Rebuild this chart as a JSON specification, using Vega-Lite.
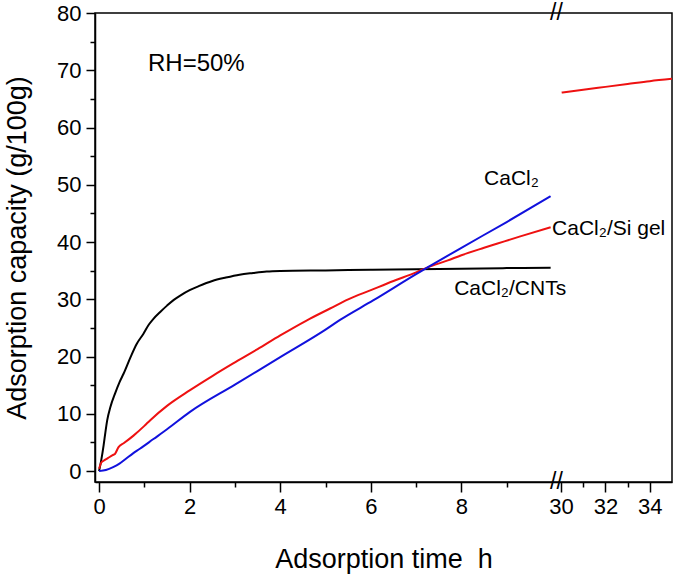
{
  "$schema": "https://vega.github.io/schema/vega-lite/v6.json",
  "width": 577,
  "height": 469,
  "autosize": "none",
  "padding": {"left": 95, "top": 13, "right": 3, "bottom": 94},
  "background": "white",
  "config": {
    "view": {"stroke": "black", "strokeWidth": 1.5},
    "font": "Liberation Sans",
    "axis": {
      "grid": false,
      "domainColor": "black",
      "tickColor": "black",
      "domainWidth": 1.5,
      "tickWidth": 1.5,
      "labelFont": "Liberation Sans",
      "titleFont": "Liberation Sans",
      "labelColor": "black",
      "titleColor": "black",
      "labelFontSize": 22,
      "titleFontSize": 27,
      "titleFontWeight": "normal"
    }
  },
  "datasets": {
    "curves": [
      {"series": "CaCl2/CNTs", "segment": "a", "t": 0, "v": 0},
      {"series": "CaCl2/CNTs", "segment": "a", "t": 0.05, "v": 2.0},
      {"series": "CaCl2/CNTs", "segment": "a", "t": 0.1, "v": 4.5},
      {"series": "CaCl2/CNTs", "segment": "a", "t": 0.14, "v": 6.8},
      {"series": "CaCl2/CNTs", "segment": "a", "t": 0.18, "v": 8.9},
      {"series": "CaCl2/CNTs", "segment": "a", "t": 0.25, "v": 11.2},
      {"series": "CaCl2/CNTs", "segment": "a", "t": 0.35, "v": 13.5},
      {"series": "CaCl2/CNTs", "segment": "a", "t": 0.45, "v": 15.5},
      {"series": "CaCl2/CNTs", "segment": "a", "t": 0.54, "v": 17},
      {"series": "CaCl2/CNTs", "segment": "a", "t": 0.7, "v": 20},
      {"series": "CaCl2/CNTs", "segment": "a", "t": 0.83, "v": 22.2},
      {"series": "CaCl2/CNTs", "segment": "a", "t": 0.98, "v": 24},
      {"series": "CaCl2/CNTs", "segment": "a", "t": 1.1, "v": 25.6},
      {"series": "CaCl2/CNTs", "segment": "a", "t": 1.2, "v": 26.6},
      {"series": "CaCl2/CNTs", "segment": "a", "t": 1.35, "v": 27.8},
      {"series": "CaCl2/CNTs", "segment": "a", "t": 1.5, "v": 28.9},
      {"series": "CaCl2/CNTs", "segment": "a", "t": 1.65, "v": 29.9},
      {"series": "CaCl2/CNTs", "segment": "a", "t": 1.8, "v": 30.7},
      {"series": "CaCl2/CNTs", "segment": "a", "t": 2.0, "v": 31.6},
      {"series": "CaCl2/CNTs", "segment": "a", "t": 2.2, "v": 32.3},
      {"series": "CaCl2/CNTs", "segment": "a", "t": 2.5, "v": 33.2},
      {"series": "CaCl2/CNTs", "segment": "a", "t": 2.8, "v": 33.8},
      {"series": "CaCl2/CNTs", "segment": "a", "t": 3.1, "v": 34.3},
      {"series": "CaCl2/CNTs", "segment": "a", "t": 3.4, "v": 34.6},
      {"series": "CaCl2/CNTs", "segment": "a", "t": 3.7, "v": 34.85},
      {"series": "CaCl2/CNTs", "segment": "a", "t": 4.0, "v": 34.95},
      {"series": "CaCl2/CNTs", "segment": "a", "t": 5.0, "v": 35.05},
      {"series": "CaCl2/CNTs", "segment": "a", "t": 6.0, "v": 35.15},
      {"series": "CaCl2/CNTs", "segment": "a", "t": 7.0, "v": 35.25},
      {"series": "CaCl2/CNTs", "segment": "a", "t": 8.0, "v": 35.35},
      {"series": "CaCl2/CNTs", "segment": "a", "t": 9.0, "v": 35.45},
      {"series": "CaCl2/CNTs", "segment": "a", "t": 9.97, "v": 35.5},
      {"series": "CaCl2/Si gel", "segment": "b", "t": 0, "v": 0.4},
      {"series": "CaCl2/Si gel", "segment": "b", "t": 0.05, "v": 1.5},
      {"series": "CaCl2/Si gel", "segment": "b", "t": 0.1, "v": 1.8},
      {"series": "CaCl2/Si gel", "segment": "b", "t": 0.2, "v": 2.3},
      {"series": "CaCl2/Si gel", "segment": "b", "t": 0.3, "v": 2.8},
      {"series": "CaCl2/Si gel", "segment": "b", "t": 0.35, "v": 3.0},
      {"series": "CaCl2/Si gel", "segment": "b", "t": 0.43, "v": 4.2},
      {"series": "CaCl2/Si gel", "segment": "b", "t": 0.55, "v": 4.9},
      {"series": "CaCl2/Si gel", "segment": "b", "t": 0.76, "v": 6.2},
      {"series": "CaCl2/Si gel", "segment": "b", "t": 1.0, "v": 7.9},
      {"series": "CaCl2/Si gel", "segment": "b", "t": 1.13, "v": 8.9},
      {"series": "CaCl2/Si gel", "segment": "b", "t": 1.5, "v": 11.4},
      {"series": "CaCl2/Si gel", "segment": "b", "t": 2.0, "v": 14.1},
      {"series": "CaCl2/Si gel", "segment": "b", "t": 2.5, "v": 16.6},
      {"series": "CaCl2/Si gel", "segment": "b", "t": 2.96, "v": 18.8},
      {"series": "CaCl2/Si gel", "segment": "b", "t": 3.5, "v": 21.3},
      {"series": "CaCl2/Si gel", "segment": "b", "t": 4.0, "v": 23.7},
      {"series": "CaCl2/Si gel", "segment": "b", "t": 4.58, "v": 26.3},
      {"series": "CaCl2/Si gel", "segment": "b", "t": 5.1, "v": 28.4},
      {"series": "CaCl2/Si gel", "segment": "b", "t": 5.5, "v": 30.0},
      {"series": "CaCl2/Si gel", "segment": "b", "t": 6.0, "v": 31.6},
      {"series": "CaCl2/Si gel", "segment": "b", "t": 6.5, "v": 33.2},
      {"series": "CaCl2/Si gel", "segment": "b", "t": 7.0, "v": 34.7},
      {"series": "CaCl2/Si gel", "segment": "b", "t": 7.23, "v": 35.5},
      {"series": "CaCl2/Si gel", "segment": "b", "t": 7.7, "v": 36.8},
      {"series": "CaCl2/Si gel", "segment": "b", "t": 8.0, "v": 37.7},
      {"series": "CaCl2/Si gel", "segment": "b", "t": 8.5, "v": 39.0},
      {"series": "CaCl2/Si gel", "segment": "b", "t": 8.78, "v": 39.7},
      {"series": "CaCl2/Si gel", "segment": "b", "t": 9.3, "v": 41.0},
      {"series": "CaCl2/Si gel", "segment": "b", "t": 9.97, "v": 42.6},
      {"series": "CaCl2/Si gel", "segment": "c", "t": 30.03, "v": 66.1},
      {"series": "CaCl2/Si gel", "segment": "c", "t": 31, "v": 66.6},
      {"series": "CaCl2/Si gel", "segment": "c", "t": 32, "v": 67.1},
      {"series": "CaCl2/Si gel", "segment": "c", "t": 33, "v": 67.6},
      {"series": "CaCl2/Si gel", "segment": "c", "t": 34, "v": 68.1},
      {"series": "CaCl2/Si gel", "segment": "c", "t": 35, "v": 68.5},
      {"series": "CaCl2", "segment": "d", "t": 0, "v": 0},
      {"series": "CaCl2", "segment": "d", "t": 0.15, "v": 0.2},
      {"series": "CaCl2", "segment": "d", "t": 0.31, "v": 0.7},
      {"series": "CaCl2", "segment": "d", "t": 0.45, "v": 1.3},
      {"series": "CaCl2", "segment": "d", "t": 0.6, "v": 2.2},
      {"series": "CaCl2", "segment": "d", "t": 0.75, "v": 3.1},
      {"series": "CaCl2", "segment": "d", "t": 0.9, "v": 3.9},
      {"series": "CaCl2", "segment": "d", "t": 1.2, "v": 5.6},
      {"series": "CaCl2", "segment": "d", "t": 1.5, "v": 7.3},
      {"series": "CaCl2", "segment": "d", "t": 2.0, "v": 10.3},
      {"series": "CaCl2", "segment": "d", "t": 3.0, "v": 15.1},
      {"series": "CaCl2", "segment": "d", "t": 4.0, "v": 19.9},
      {"series": "CaCl2", "segment": "d", "t": 5.0, "v": 24.7},
      {"series": "CaCl2", "segment": "d", "t": 5.32, "v": 26.4},
      {"series": "CaCl2", "segment": "d", "t": 6.05, "v": 29.8},
      {"series": "CaCl2", "segment": "d", "t": 7.0, "v": 34.4},
      {"series": "CaCl2", "segment": "d", "t": 7.3, "v": 35.8},
      {"series": "CaCl2", "segment": "d", "t": 8.0, "v": 39.0},
      {"series": "CaCl2", "segment": "d", "t": 9.0, "v": 43.5},
      {"series": "CaCl2", "segment": "d", "t": 9.97, "v": 48.0}
    ],
    "notes": [
      {"label": "CaCl₂", "t": 8.5, "v": 49.9},
      {"label": "CaCl₂/Si gel", "t": 10.2, "v": 41.2},
      {"label": "CaCl₂/CNTs", "t": 7.84, "v": 30.7}
    ],
    "rh": [
      {"label": "RH=50%", "t": 1.08, "v": 69.8}
    ],
    "breaks": [
      {"t": 20, "v": 80},
      {"t": 20, "v": -1.9}
    ]
  },
  "layer": [
    {
      "data": {"name": "curves"},
      "mark": {"type": "line", "strokeWidth": 2, "clip": true, "interpolate": "monotone"},
      "encoding": {
        "x": {
          "field": "t",
          "type": "quantitative",
          "scale": {"domain": [-0.09, 10, 30, 35], "range": [0, 457, 466, 577], "nice": false, "zero": false},
          "axis": {
            "orient": "bottom",
            "values": [0, 2, 4, 6, 8, 30, 32, 34],
            "tickSize": 10,
            "labelPadding": 4,
            "title": "Adsorption time\u00a0\u00a0h",
            "titlePadding": 29
          }
        },
        "y": {
          "field": "v",
          "type": "quantitative",
          "scale": {"domain": [-1.9, 80], "nice": false, "zero": false},
          "axis": {
            "orient": "left",
            "values": [0, 10, 20, 30, 40, 50, 60, 70, 80],
            "tickSize": 9,
            "labelPadding": 5,
            "title": "Adsorption capacity (g/100g)",
            "titlePadding": 25
          }
        },
        "color": {
          "field": "series",
          "type": "nominal",
          "scale": {"domain": ["CaCl2/CNTs", "CaCl2/Si gel", "CaCl2"], "range": ["#000000", "#ee1111", "#1111dd"]},
          "legend": null
        },
        "detail": {"field": "segment"}
      }
    },
    {
      "data": {"name": "curves"},
      "mark": {"type": "point", "opacity": 0},
      "encoding": {
        "x": {
          "field": "t",
          "type": "quantitative",
          "axis": {
            "orient": "bottom",
            "values": [1, 3, 5, 7, 9, 31, 33],
            "tickSize": 5,
            "labels": false,
            "domain": false,
            "title": null
          }
        },
        "y": {
          "field": "v",
          "type": "quantitative",
          "axis": {
            "orient": "left",
            "values": [5, 15, 25, 35, 45, 55, 65, 75],
            "tickSize": 5,
            "labels": false,
            "domain": false,
            "title": null
          }
        }
      }
    },
    {
      "data": {"name": "notes"},
      "mark": {"type": "text", "align": "left", "baseline": "alphabetic", "fontSize": 21, "font": "Liberation Sans", "color": "black"},
      "encoding": {
        "x": {"field": "t", "type": "quantitative", "axis": null},
        "y": {"field": "v", "type": "quantitative", "axis": null},
        "text": {"field": "label"}
      }
    },
    {
      "data": {"name": "rh"},
      "mark": {"type": "text", "align": "left", "baseline": "alphabetic", "fontSize": 24, "font": "Liberation Sans", "color": "black"},
      "encoding": {
        "x": {"field": "t", "type": "quantitative", "axis": null},
        "y": {"field": "v", "type": "quantitative", "axis": null},
        "text": {"field": "label"}
      }
    },
    {
      "data": {"name": "breaks"},
      "mark": {"type": "text", "align": "center", "baseline": "middle", "fontSize": 23, "font": "Liberation Sans", "color": "black", "text": "//"},
      "encoding": {
        "x": {"field": "t", "type": "quantitative", "axis": null},
        "y": {"field": "v", "type": "quantitative", "axis": null}
      }
    }
  ],
  "resolve": {"scale": {"x": "shared", "y": "shared"}, "axis": {"x": "independent", "y": "independent"}}
}
